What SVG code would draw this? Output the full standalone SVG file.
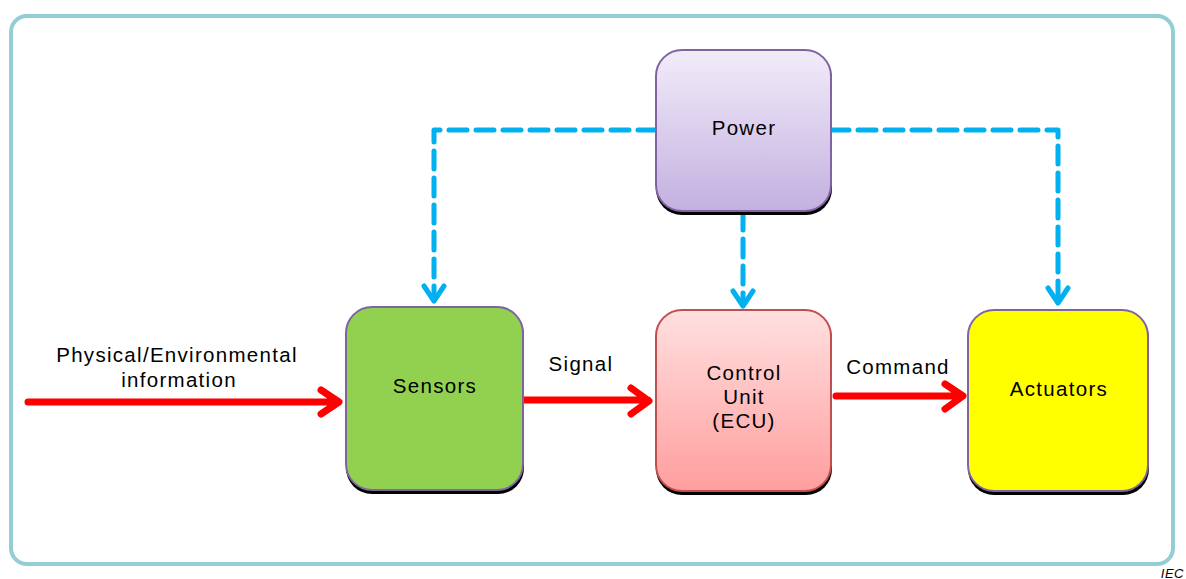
<svg xmlns="http://www.w3.org/2000/svg" width="1186" height="579" viewBox="0 0 1186 579">
<style>
text{font-family:"Liberation Sans",Arial,sans-serif;font-size:20.5px;fill:#000;text-anchor:middle;letter-spacing:1.3px}
.shadow{fill:#000}
.node{stroke-width:2}
.dash{fill:none;stroke:#00b0f0;stroke-width:5;stroke-dasharray:18 9;stroke-linecap:round;stroke-linejoin:round}
.red{fill:none;stroke:#ff0000;stroke-width:7;stroke-linecap:round;stroke-linejoin:round}
.bhead{fill:none;stroke:#00b0f0;stroke-width:5;stroke-linecap:round;stroke-linejoin:round}
</style>
<defs>
<linearGradient id="gPow" x1="0" y1="0" x2="0" y2="1"><stop offset="0" stop-color="#f2ecf9"/><stop offset="1" stop-color="#c3b0e0"/></linearGradient>
<linearGradient id="gEcu" x1="0" y1="0" x2="0" y2="1"><stop offset="0" stop-color="#ffe0e0"/><stop offset="1" stop-color="#ff9e9e"/></linearGradient>
</defs>
<rect x="11" y="16" width="1162" height="548" rx="16" fill="#fff" stroke="#92ced4" stroke-width="4"/>
<g id="connectors">
<path class="dash" d="M656 130 H434 V296"/>
<path class="bhead" d="M424 286 L434 301 L444 286"/>
<path class="dash" d="M831 130 H1058 V298"/>
<path class="bhead" d="M1048 288 L1058 303 L1068 288"/>
<path class="dash" d="M743 212 V300"/>
<path class="bhead" d="M733 291 L743 306 L753 291"/>
<path class="red" d="M28 402 H338 M321 390 L339 402 L321 414"/>
<path class="red" d="M522 400 H648 M631 388 L649 401 L631 414"/>
<path class="red" d="M836 396 H962 M945 384 L963 396 L945 409"/>
</g>
<g id="power">
<rect class="shadow" x="656" y="53" width="176" height="162" rx="26"/>
<rect class="node" x="656" y="50" width="175" height="161" rx="26" fill="url(#gPow)" stroke="#8064a2"/>
<text x="744" y="135">Power</text>
</g>
<g id="sensors">
<rect class="shadow" x="346" y="310" width="178" height="184" rx="26"/>
<rect class="node" x="346" y="307" width="177" height="183" rx="26" fill="#92d050" stroke="#8064a2"/>
<text x="435" y="393">Sensors</text>
</g>
<g id="ecu">
<rect class="shadow" x="656" y="313" width="176" height="182" rx="26"/>
<rect class="node" x="656" y="310" width="175" height="181" rx="26" fill="url(#gEcu)" stroke="#c0504d"/>
<text x="744" y="380">Control</text>
<text x="744" y="404">Unit</text>
<text x="744" y="428">(ECU)</text>
</g>
<g id="actuators">
<rect class="shadow" x="968" y="313" width="181" height="182" rx="26"/>
<rect class="node" x="968" y="310" width="180" height="181" rx="26" fill="#ffff00" stroke="#8064a2"/>
<text x="1059" y="396">Actuators</text>
</g>
<g id="labels">
<text x="177" y="362">Physical/Environmental</text>
<text x="179" y="387">information</text>
<text x="581" y="371">Signal</text>
<text x="898" y="374">Command</text>
<text x="1184" y="578" style="font-size:13px;font-style:italic;text-anchor:end;letter-spacing:0.5px">IEC</text>
</g>
</svg>
